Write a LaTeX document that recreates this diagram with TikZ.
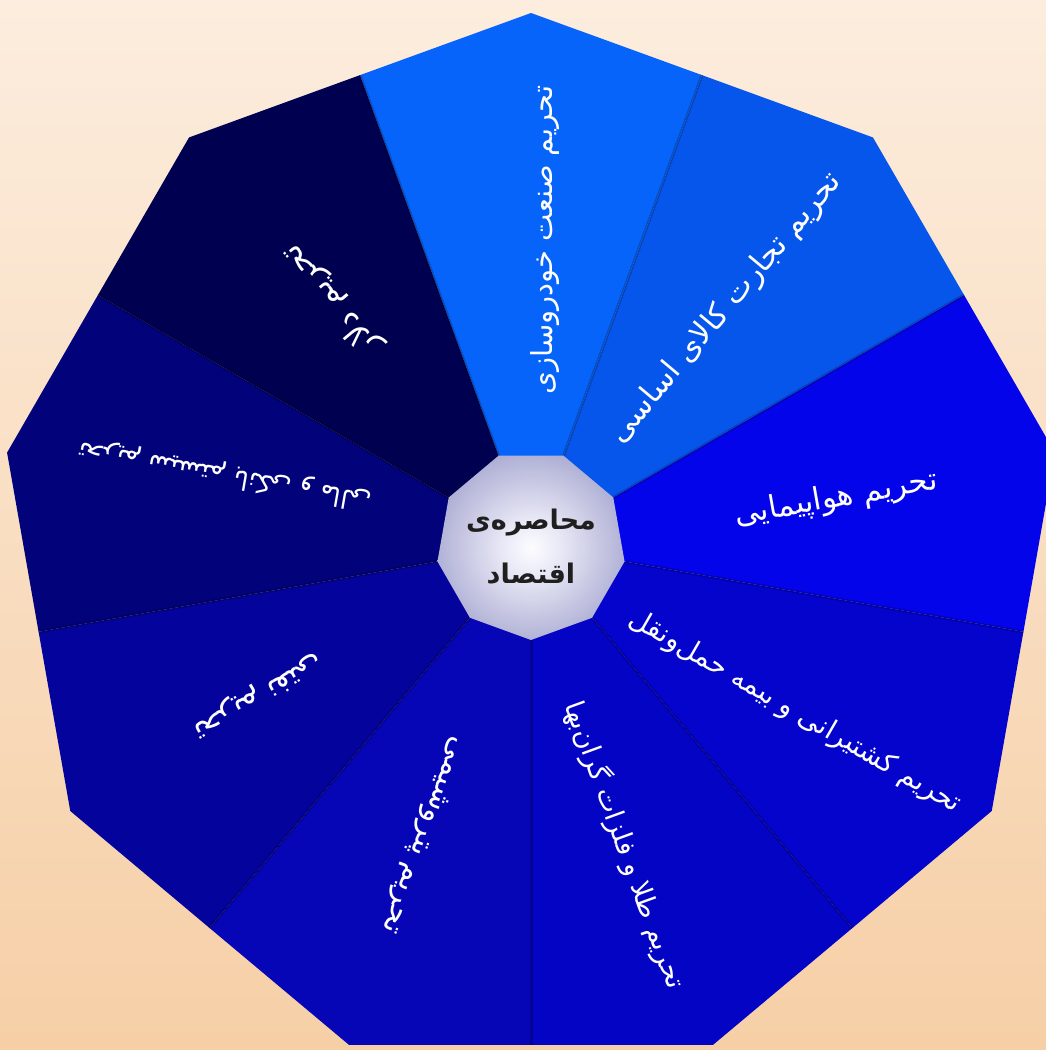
\documentclass[tikz,border=0pt]{standalone}
\usepackage{fontspec}
\newfontfamily\arabicfont[Script=Arabic]{DejaVu Sans}
\TeXXeTstate=1
\usetikzlibrary{calc}
\definecolor{bgtop}{RGB}{252,237,222}
\definecolor{bgbot}{RGB}{246,207,166}
\definecolor{s1}{RGB}{6,100,250}
\definecolor{s2}{RGB}{6,86,236}
\definecolor{s3}{RGB}{4,4,234}
\definecolor{s4}{RGB}{4,4,204}
\definecolor{s5}{RGB}{4,4,196}
\definecolor{s6}{RGB}{6,6,182}
\definecolor{s7}{RGB}{4,4,156}
\definecolor{s8}{RGB}{2,2,122}
\definecolor{s9}{RGB}{0,0,80}
\pgfdeclareradialshading{hubshade}{\pgfpoint{0bp}{0bp}}{rgb(0bp)=(0.99,0.99,1); rgb(7bp)=(0.92,0.92,0.97); rgb(28bp)=(0.66,0.66,0.82); rgb(50bp)=(0.50,0.50,0.70)}
\newcommand{\lblsize}[1]{\fontsize{#1}{#1}\selectfont}
\tikzset{
  lbl/.style={text=white, inner sep=0pt, font=\arabicfont},
  hubtxt/.style={text=black!88, inner sep=0pt, align=center, font=\arabicfont\bfseries\fontsize{27}{54}\selectfont},
  seam/.style={black, opacity=.2, line width=3pt}
}
\begin{document}
\begin{tikzpicture}[x=1pt,y=1pt]
\useasboundingbox (0,0) rectangle (1046,1050);
\shade[top color=bgtop,bottom color=bgbot] (0,0) rectangle (1046,1050);
\begin{scope}[shift={(531,505)}]
  \foreach \t/\c in {90/s1,50/s2,10/s3,-30/s4,-70/s5,-110/s6,-150/s7,170/s8,130/s9}{
    \fill[\c] (0,0) -- (\t-20:500) -- (\t:532) -- (\t+20:500) -- cycle;
  }
  \foreach \t in {70,30,-10,-50,-90,-130,-170,150,110}{
    \draw[seam] (\t:95) -- (\t:500);
  }
  \shade[shading=hubshade] (30:95) -- (70:95) -- (110:95) -- (150:95) -- (190:95) -- (230:95) -- (270:95) -- (310:95) -- (350:95) -- cycle;
\end{scope}
\node[hubtxt] (hub) at (531,503) {\beginR محاصره‌ی\endR\\\beginR اقتصاد\endR};
\node[lbl, rotate=90]   (l1) at (545,810) {\lblsize{29}\beginR تحریم صنعت خودروسازی\endR};
\node[lbl, rotate=50]   (l2) at (726,742) {\lblsize{30.5}\beginR تحریم تجارت کالای اساسی\endR};
\node[lbl, rotate=10]   (l3) at (836,551) {\lblsize{31}\beginR تحریم هواپیمایی\endR};
\node[lbl, rotate=-30]  (l4) at (795,338) {\lblsize{27.5}\beginR تحریم کشتیرانی و بیمه حمل‌ونقل\endR};
\node[lbl, rotate=-70]  (l5) at (625,205) {\lblsize{27}\beginR تحریم طلا و فلزات گران‌بها\endR};
\node[lbl, rotate=-110] (l6) at (423,215) {\lblsize{30}\beginR تحریم پتروشیمی\endR};
\node[lbl, rotate=-150] (l7) at (257,355) {\lblsize{31}\beginR تحریم نفتی\endR};
\node[lbl, rotate=170]  (l8) at (225,575) {\lblsize{26}\beginR تحریم سیستم بانکی و مالی\endR};
\node[lbl, rotate=130]  (l9) at (332,750) {\lblsize{32}\beginR تحریم دلار\endR};
\end{tikzpicture}
\end{document}
